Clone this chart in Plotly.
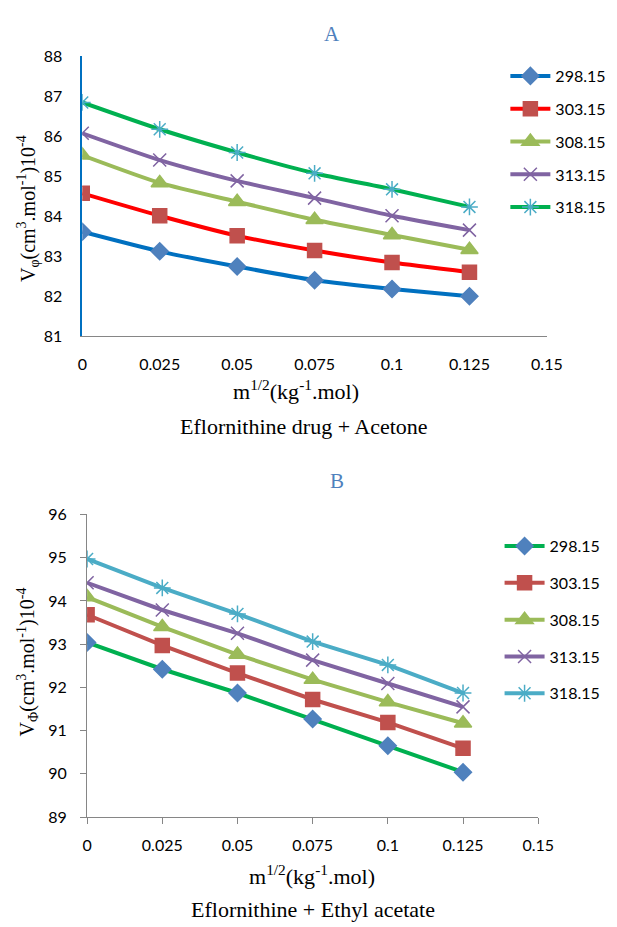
import plotly.graph_objects as go

# ---------------- data ----------------
x_vals = [0, 0.025, 0.05, 0.075, 0.1, 0.125]
temps = ["298.15", "303.15", "308.15", "313.15", "318.15"]

# Panel A: Eflornithine drug + Acetone
a_298 = [83.61, 83.12, 82.74, 82.40, 82.18, 82.00]
a_303 = [84.57, 84.01, 83.51, 83.14, 82.84, 82.60]
a_308 = [85.52, 84.83, 84.36, 83.91, 83.53, 83.16]
a_313 = [86.07, 85.40, 84.88, 84.45, 84.01, 83.65]
a_318 = [86.84, 86.17, 85.59, 85.07, 84.67, 84.23]

# Panel B: Eflornithine + Ethyl acetate
b_298 = [93.04, 92.42, 91.87, 91.27, 90.65, 90.04]
b_303 = [93.68, 92.97, 92.33, 91.72, 91.19, 90.59]
b_308 = [94.09, 93.40, 92.76, 92.18, 91.66, 91.17]
b_313 = [94.42, 93.79, 93.25, 92.63, 92.09, 91.55]
b_318 = [94.97, 94.30, 93.70, 93.06, 92.52, 91.87]

a_series = [a_298, a_303, a_308, a_313, a_318]
b_series = [b_298, b_303, b_308, b_313, b_318]

x_ticks = [0, 0.025, 0.05, 0.075, 0.1, 0.125, 0.15]
x_ticktext = ["0", "0.025", "0.05", "0.075", "0.1", "0.125", "0.15"]

# ---------------- styles ----------------
symbols = ["diamond", "square", "triangle-up", "x-thin-open", "asterisk-open"]
sizes = [13, 14, 15, 13, 14]
a_line_colors = ["#0070C0", "#FF0000", "#9BBB59", "#8064A2", "#00B050"]
a_marker_colors = ["#4F81BD", "#C0504D", "#9BBB59", "#8064A2", "#4BACC6"]
b_line_colors = ["#00B050", "#C0504D", "#9BBB59", "#8064A2", "#4BACC6"]
b_marker_colors = ["#4F81BD", "#C0504D", "#9BBB59", "#8064A2", "#4BACC6"]

TICKFONT = dict(family="Lato, Calibri, sans-serif", size=16, color="#000000")
SERIF = "Liberation Serif, Times New Roman, serif"

fig = go.Figure()

for i, t in enumerate(temps):
    fig.add_trace(go.Scatter(
        x=x_vals, y=a_series[i], name=t, mode="lines+markers",
        line=dict(color=a_line_colors[i], width=4, shape="spline", smoothing=0.6),
        marker=dict(symbol=symbols[i], size=sizes[i], color=a_marker_colors[i],
                    line=dict(color=a_marker_colors[i], width=1.5)),
        xaxis="x", yaxis="y", legend="legend", legendgroup="a" + t,
    ))

for i, t in enumerate(temps):
    fig.add_trace(go.Scatter(
        x=x_vals, y=b_series[i], name=t, mode="lines+markers",
        line=dict(color=b_line_colors[i], width=4),
        marker=dict(symbol=symbols[i], size=sizes[i], color=b_marker_colors[i],
                    line=dict(color=b_marker_colors[i], width=1.5)),
        xaxis="x2", yaxis="y2", legend="legend2", legendgroup="b" + t,
    ))

W, H = 617, 927

def px(x):
    return x / W

def py(y):
    return 1 - y / H

fig.update_layout(
    width=W, height=H,
    margin=dict(l=0, r=0, t=0, b=0),
    paper_bgcolor="white", plot_bgcolor="white",
    showlegend=True,
    xaxis=dict(domain=[px(80), px(561)], range=[0, 0.15], tickvals=x_ticks, ticktext=x_ticktext,
               showgrid=False, zeroline=False, showline=True, linecolor="#868686", linewidth=1,
               ticks="", tickfont=TICKFONT, ticklabelstandoff=14, anchor="y", fixedrange=True),
    yaxis=dict(domain=[py(333), py(47)], range=[81, 88], dtick=1,
               showgrid=False, zeroline=False, showline=True, linecolor="#0070C0", linewidth=1.5,
               ticks="", tickfont=TICKFONT, ticklabelstandoff=15, anchor="x"),
    xaxis2=dict(domain=[px(85), px(552)], range=[0, 0.15], tickvals=x_ticks, ticktext=x_ticktext,
                showgrid=False, zeroline=False, showline=True, linecolor="#868686", linewidth=1,
                ticks="outside", ticklen=6, tickcolor="#868686", tickfont=TICKFONT,
                ticklabelstandoff=8, anchor="y2"),
    yaxis2=dict(domain=[py(824), py(515)], range=[89, 96], dtick=1,
                showgrid=False, zeroline=False, showline=True, linecolor="#868686", linewidth=1,
                ticks="outside", ticklen=6, tickcolor="#868686", tickfont=TICKFONT,
                ticklabelstandoff=10, anchor="x2"),
    legend=dict(x=px(518), y=py(50), xanchor="left", yanchor="top",
                font=dict(family="Lato, Calibri, sans-serif", size=16, color="#000000"),
                bgcolor="rgba(0,0,0,0)", traceorder="grouped", tracegroupgap=9,
                itemwidth=40),
    legend2=dict(x=px(512), y=py(530), xanchor="left", yanchor="top",
                 font=dict(family="Lato, Calibri, sans-serif", size=16, color="#000000"),
                 bgcolor="rgba(0,0,0,0)", traceorder="grouped", tracegroupgap=13,
                 itemwidth=40),
)

annotations = [
    dict(text="A", x=px(339), y=py(25), font=dict(family=SERIF, size=21, color="#4F81BD")),
    dict(text="B", x=px(344), y=py(481), font=dict(family=SERIF, size=21, color="#4F81BD")),
    dict(text="V<sub>φ</sub>(cm<sup>3</sup>.mol<sup>-1</sup>)10<sup>-4</sup>", x=px(24), y=py(203),
         textangle=-90, font=dict(family=SERIF, size=20, color="#000000")),
    dict(text="V<sub>Φ</sub>(cm<sup>3</sup>.mol<sup>-1</sup>)10<sup>-4</sup>", x=px(24), y=py(666),
         textangle=-90, font=dict(family=SERIF, size=20, color="#000000")),
    dict(text="m<sup>1/2</sup>(kg<sup>-1</sup>.mol)", x=px(301), y=py(388),
         font=dict(family=SERIF, size=22, color="#000000")),
    dict(text="m<sup>1/2</sup>(kg<sup>-1</sup>.mol)", x=px(318), y=py(883),
         font=dict(family=SERIF, size=22, color="#000000")),
    dict(text="Eflornithine drug + Acetone", x=px(310), y=py(425),
         font=dict(family=SERIF, size=22, color="#000000")),
    dict(text="Eflornithine + Ethyl acetate", x=px(319), y=py(918),
         font=dict(family=SERIF, size=22, color="#000000")),
]
for a in annotations:
    a.update(xref="paper", yref="paper", showarrow=False, xanchor="center", yanchor="middle")
fig.update_layout(annotations=annotations)

fig.write_html("out.html")
